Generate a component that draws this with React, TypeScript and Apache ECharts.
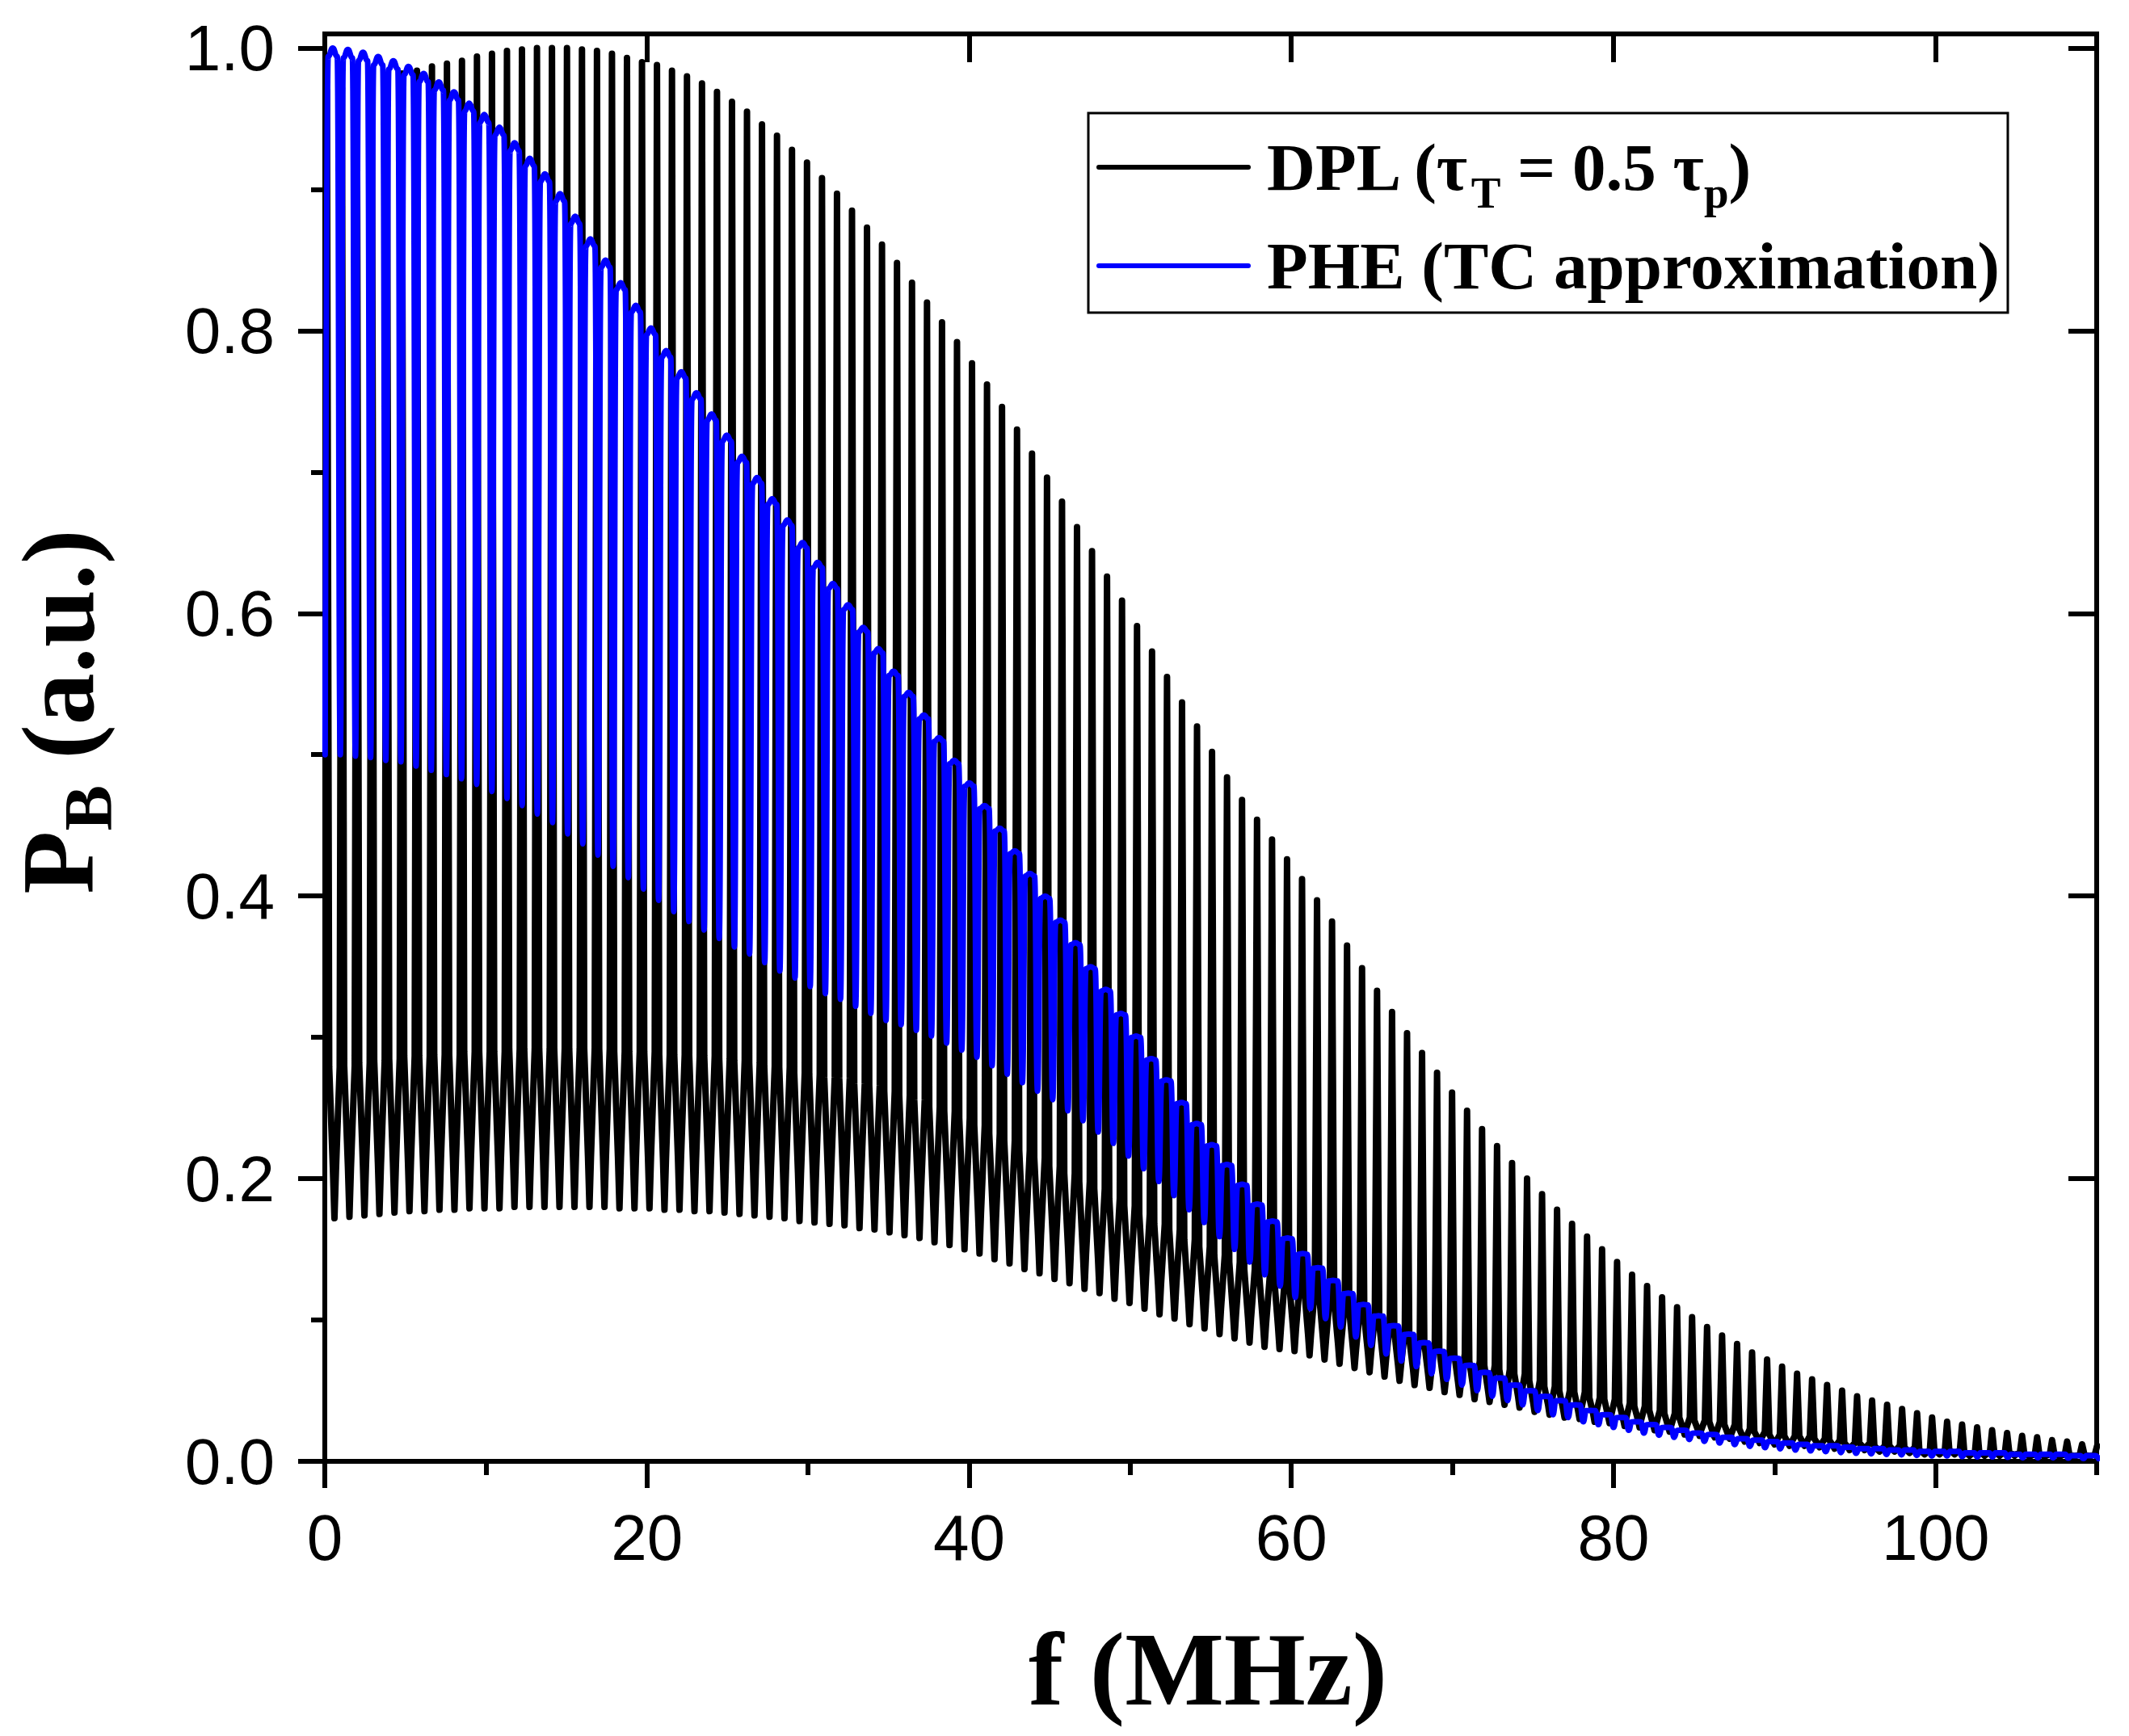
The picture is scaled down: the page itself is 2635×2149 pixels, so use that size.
import React, { useEffect, useRef } from "react";
import * as echarts from "echarts";

// ---- axis ticks ----
const X_MAJOR = [0, 20, 40, 60, 80, 100];
const X_MINOR = [10, 30, 50, 70, 90, 110];
const Y_MAJOR = [0, 0.2, 0.4, 0.6, 0.8, 1.0];
const Y_MINOR = [0.1, 0.3, 0.5, 0.7, 0.9];
const X_MIN = 0;
const X_MAX = 110;
const Y_MIN = 0;
const Y_MAX = 1.01;

// ---- oscillation positions (MHz) ----
// PHE peaks at BLUE_F0 + k*BLUE_PERIOD, troughs half a period earlier
const BLUE_F0 = 0.49;
const BLUE_PERIOD = 0.941;
// DPL spikes at BLACK_F0 + j*BLACK_PERIOD, dips half a period later
const BLACK_F0 = 0.133;
const BLACK_PERIOD = 0.9313;
// rounding of the PHE crests (fraction of the local swing)
const ARC_SAG = 0.012;

// PHE (TC approximation): peak value of each oscillation (k = 0..116)
const BLUE_PEAK = [
  1.0, 0.999, 0.997, 0.994, 0.991, 0.987, 0.982, 0.976, 0.969, 0.961,
  0.953, 0.944, 0.933, 0.922, 0.911, 0.897, 0.881, 0.865, 0.85, 0.834,
  0.818, 0.802, 0.786, 0.771, 0.756, 0.741, 0.726, 0.711, 0.696, 0.681,
  0.666, 0.65, 0.636, 0.621, 0.606, 0.59, 0.575, 0.559, 0.544, 0.528,
  0.512, 0.496, 0.48, 0.464, 0.448, 0.432, 0.416, 0.4, 0.383, 0.367,
  0.35, 0.334, 0.317, 0.301, 0.285, 0.27, 0.254, 0.239, 0.224, 0.21,
  0.196, 0.182, 0.17, 0.158, 0.147, 0.137, 0.128, 0.119, 0.111, 0.103,
  0.096, 0.09, 0.084, 0.078, 0.073, 0.068, 0.063, 0.059, 0.054, 0.05,
  0.046, 0.043, 0.04, 0.036, 0.033, 0.031, 0.028, 0.026, 0.024, 0.022,
  0.02, 0.019, 0.017, 0.016, 0.015, 0.014, 0.013, 0.012, 0.011, 0.011,
  0.01, 0.009, 0.009, 0.008, 0.008, 0.007, 0.007, 0.007, 0.006, 0.006,
  0.006, 0.005, 0.005, 0.005, 0.005, 0.004, 0.004,
];
// PHE: trough value half a period before each peak (k = 0..117)
const BLUE_TROUGH = [
  0.5, 0.5, 0.499, 0.498, 0.496, 0.495, 0.492, 0.489, 0.486, 0.483,
  0.479, 0.474, 0.469, 0.464, 0.458, 0.452, 0.444, 0.437, 0.429, 0.421,
  0.413, 0.405, 0.397, 0.389, 0.382, 0.376, 0.37, 0.364, 0.359, 0.353,
  0.347, 0.342, 0.336, 0.331, 0.327, 0.322, 0.317, 0.312, 0.309, 0.305,
  0.301, 0.296, 0.291, 0.286, 0.28, 0.274, 0.268, 0.262, 0.256, 0.248,
  0.241, 0.233, 0.225, 0.216, 0.207, 0.198, 0.188, 0.178, 0.169, 0.159,
  0.15, 0.141, 0.132, 0.124, 0.116, 0.108, 0.101, 0.095, 0.088, 0.082,
  0.076, 0.071, 0.067, 0.062, 0.058, 0.054, 0.05, 0.046, 0.043, 0.04,
  0.036, 0.033, 0.031, 0.028, 0.026, 0.024, 0.022, 0.02, 0.0185, 0.017,
  0.0155, 0.0142, 0.013, 0.0118, 0.0106, 0.0097, 0.0089, 0.008, 0.0074, 0.0068,
  0.0062, 0.0057, 0.0053, 0.0049, 0.0046, 0.0042, 0.0039, 0.0038, 0.0034, 0.0031,
  0.0031, 0.0028, 0.0025, 0.0025, 0.0025, 0.0023, 0.002, 0.002,
];
// DPL (tau_T = 0.5 tau_p): spike tops (j = 0..118)
const BLACK_SPIKE = [
  0.97, 0.972, 0.975, 0.977, 0.979, 0.982, 0.984, 0.987, 0.989, 0.991,
  0.994, 0.996, 0.998, 0.999, 1.0, 1.0, 1.0, 0.999, 0.998, 0.996,
  0.993, 0.99, 0.988, 0.984, 0.98, 0.975, 0.969, 0.962, 0.955, 0.946,
  0.938, 0.928, 0.919, 0.908, 0.897, 0.885, 0.873, 0.861, 0.848, 0.834,
  0.82, 0.806, 0.792, 0.777, 0.762, 0.746, 0.73, 0.713, 0.696, 0.679,
  0.661, 0.644, 0.626, 0.609, 0.591, 0.573, 0.555, 0.537, 0.52, 0.502,
  0.484, 0.468, 0.454, 0.44, 0.426, 0.412, 0.397, 0.382, 0.365, 0.349,
  0.333, 0.318, 0.303, 0.289, 0.275, 0.261, 0.248, 0.235, 0.223, 0.211,
  0.2, 0.189, 0.178, 0.168, 0.159, 0.15, 0.141, 0.132, 0.124, 0.116,
  0.109, 0.102, 0.095, 0.089, 0.083, 0.077, 0.072, 0.067, 0.062, 0.058,
  0.054, 0.05, 0.046, 0.043, 0.04, 0.037, 0.034, 0.031, 0.028, 0.026,
  0.024, 0.022, 0.02, 0.018, 0.017, 0.015, 0.014, 0.012, 0.011,
];
// DPL: dip bottoms, half a period after each spike (j = 0..117)
const BLACK_DIP = [
  0.172, 0.173, 0.174, 0.175, 0.176, 0.177, 0.177, 0.178, 0.178, 0.179,
  0.179, 0.179, 0.18, 0.18, 0.18, 0.18, 0.18, 0.18, 0.18, 0.179,
  0.179, 0.179, 0.178, 0.178, 0.177, 0.177, 0.176, 0.175, 0.174, 0.173,
  0.172, 0.17, 0.169, 0.168, 0.167, 0.165, 0.164, 0.162, 0.16, 0.158,
  0.155, 0.153, 0.15, 0.147, 0.143, 0.14, 0.136, 0.133, 0.129, 0.126,
  0.122, 0.119, 0.115, 0.112, 0.108, 0.104, 0.101, 0.097, 0.094, 0.09,
  0.087, 0.084, 0.081, 0.0795, 0.078, 0.075, 0.072, 0.069, 0.066, 0.063,
  0.06, 0.057, 0.054, 0.052, 0.049, 0.047, 0.044, 0.042, 0.04, 0.038,
  0.035, 0.033, 0.031, 0.03, 0.028, 0.027, 0.025, 0.024, 0.022, 0.021,
  0.019, 0.018, 0.017, 0.016, 0.014, 0.013, 0.012, 0.011, 0.011, 0.01,
  0.009, 0.008, 0.008, 0.007, 0.007, 0.006, 0.005, 0.005, 0.005, 0.004,
  0.004, 0.004, 0.004, 0.003, 0.003, 0.003, 0.003, 0.003,
];
// DPL: shoulder level next to each dip (j = 0..117)
const BLACK_SHOULDER_LO = [
  0.206, 0.208, 0.209, 0.21, 0.211, 0.212, 0.212, 0.214, 0.214, 0.215,
  0.215, 0.215, 0.216, 0.216, 0.216, 0.216, 0.216, 0.216, 0.216, 0.215,
  0.215, 0.215, 0.214, 0.214, 0.212, 0.212, 0.211, 0.21, 0.209, 0.208,
  0.206, 0.204, 0.203, 0.202, 0.2, 0.198, 0.197, 0.194, 0.192, 0.19,
  0.186, 0.184, 0.18, 0.176, 0.172, 0.168, 0.163, 0.16, 0.155, 0.151,
  0.146, 0.143, 0.138, 0.134, 0.13, 0.125, 0.121, 0.116, 0.113, 0.108,
  0.104, 0.101, 0.097, 0.095, 0.094, 0.09, 0.086, 0.083, 0.079, 0.076,
  0.072, 0.068, 0.065, 0.062, 0.059, 0.056, 0.053, 0.05, 0.048, 0.046,
  0.042, 0.04, 0.037, 0.036, 0.034, 0.032, 0.03, 0.029, 0.026, 0.025,
  0.023, 0.022, 0.02, 0.019, 0.017, 0.016, 0.014, 0.013, 0.013, 0.012,
  0.011, 0.01, 0.01, 0.008, 0.008, 0.007, 0.006, 0.006, 0.006, 0.005,
  0.005, 0.005, 0.005, 0.004, 0.004, 0.004, 0.004, 0.004,
];
// DPL: shoulder level at the foot of each spike (j = 0..117)
const BLACK_SHOULDER_HI = [
  0.279, 0.28, 0.282, 0.284, 0.285, 0.287, 0.287, 0.288, 0.288, 0.29,
  0.29, 0.29, 0.292, 0.292, 0.292, 0.292, 0.292, 0.292, 0.292, 0.29,
  0.29, 0.29, 0.288, 0.288, 0.287, 0.287, 0.285, 0.284, 0.282, 0.28,
  0.279, 0.275, 0.274, 0.272, 0.271, 0.267, 0.266, 0.262, 0.259, 0.256,
  0.251, 0.248, 0.243, 0.238, 0.232, 0.227, 0.22, 0.215, 0.209, 0.204,
  0.198, 0.193, 0.186, 0.181, 0.175, 0.168, 0.164, 0.157, 0.152, 0.146,
  0.141, 0.136, 0.131, 0.129, 0.126, 0.122, 0.117, 0.112, 0.107, 0.102,
  0.097, 0.092, 0.087, 0.084, 0.079, 0.076, 0.071, 0.068, 0.065, 0.062,
  0.057, 0.053, 0.05, 0.049, 0.045, 0.044, 0.041, 0.039, 0.036, 0.034,
  0.031, 0.029, 0.028, 0.026, 0.023, 0.021, 0.019, 0.018, 0.018, 0.016,
  0.015, 0.013, 0.013, 0.011, 0.011, 0.01, 0.008, 0.008, 0.008, 0.006,
  0.006, 0.006, 0.006, 0.005, 0.005, 0.005, 0.005, 0.005,
];

const SERIES_NAMES = ["DPL", "PHE"];

function buildBlue(): number[][] {
  const P = BLUE_PERIOD;
  const pts: number[][] = [];
  for (let k = 0; k < BLUE_PEAK.length; k++) {
    const fc = BLUE_F0 + k * P;
    const up = BLUE_PEAK[k];
    const sag = ARC_SAG * (up - Math.min(BLUE_TROUGH[k], BLUE_TROUGH[k + 1]));
    pts.push([fc - 0.5 * P, BLUE_TROUGH[k]]);
    pts.push([fc - 0.3 * P, up - sag]);
    pts.push([fc, up]);
    pts.push([fc + 0.3 * P, up - sag]);
  }
  const last = BLUE_PEAK.length;
  pts.push([BLUE_F0 + last * P - 0.5 * P, BLUE_TROUGH[last]]);
  return pts;
}

function buildBlack(): number[][] {
  const P = BLACK_PERIOD;
  const pts: number[][] = [];
  for (let j = 0; j < BLACK_DIP.length; j++) {
    const fs = BLACK_F0 + j * P;
    pts.push([fs, BLACK_SPIKE[j]]);
    pts.push([fs + 0.15 * P, BLACK_SHOULDER_HI[j]]);
    pts.push([fs + 0.4 * P, BLACK_SHOULDER_LO[j]]);
    pts.push([fs + 0.5 * P, BLACK_DIP[j]]);
    pts.push([fs + 0.6 * P, BLACK_SHOULDER_LO[j]]);
    pts.push([fs + 0.85 * P, BLACK_SHOULDER_HI[j]]);
  }
  const last = BLACK_DIP.length;
  pts.push([BLACK_F0 + last * P, BLACK_SPIKE[last]]);
  return pts;
}

const LABEL_FONT = "'Liberation Sans', Arial, sans-serif";
const SERIF = "'Liberation Serif', 'Times New Roman', serif";

export default function App() {
  const ref = useRef<HTMLDivElement>(null);

  useEffect(() => {
    if (!ref.current) return;
    const chart = echarts.init(ref.current, undefined, { renderer: "svg" });

    const lineW = 6;
    const xBase = {
      type: "value",
      min: X_MIN,
      max: X_MAX,
      splitLine: { show: false },
      minorTick: { show: false },
    };
    const yBase = {
      type: "value",
      min: Y_MIN,
      max: Y_MAX,
      splitLine: { show: false },
      minorTick: { show: false },
    };
    const tickStyle = { color: "#000", width: lineW };
    const axisLineStyle = { show: true, onZero: false, lineStyle: { color: "#000", width: lineW, cap: "square" } };

    const option: any = {
      animation: false,
      backgroundColor: "#ffffff",
      grid: {
        left: 402,
        top: 42,
        right: 40,
        bottom: 340,
        containLabel: false,
        outerBoundsMode: "none",
      },
      xAxis: [
        {
          ...xBase,
          position: "bottom",
          axisLine: axisLineStyle,
          axisTick: { show: true, inside: false, length: 33, customValues: X_MAJOR, lineStyle: tickStyle },
          axisLabel: {
            show: true,
            customValues: X_MAJOR,
            margin: 54,
            fontSize: 80,
            fontFamily: LABEL_FONT,
            color: "#000",
            formatter: (v: number) => String(Math.round(v)),
          },
        },
        {
          ...xBase,
          position: "bottom",
          axisLine: { show: false },
          axisTick: { show: true, inside: false, length: 17, customValues: X_MINOR, lineStyle: tickStyle },
          axisLabel: { show: false },
        },
        {
          ...xBase,
          position: "top",
          axisLine: axisLineStyle,
          axisTick: { show: true, inside: true, length: 35, customValues: X_MAJOR, lineStyle: tickStyle },
          axisLabel: { show: false },
        },
        {
          ...xBase,
          position: "top",
          axisLine: { show: false },
          axisTick: { show: true, inside: true, length: 17, customValues: X_MINOR, lineStyle: tickStyle },
          axisLabel: { show: false },
        },
      ],
      yAxis: [
        {
          ...yBase,
          position: "left",
          axisLine: axisLineStyle,
          axisTick: { show: true, inside: false, length: 33, customValues: Y_MAJOR, lineStyle: tickStyle },
          axisLabel: {
            show: true,
            customValues: Y_MAJOR,
            margin: 62,
            fontSize: 80,
            fontFamily: LABEL_FONT,
            color: "#000",
            formatter: (v: number) => v.toFixed(1),
          },
        },
        {
          ...yBase,
          position: "left",
          axisLine: { show: false },
          axisTick: { show: true, inside: false, length: 17, customValues: Y_MINOR, lineStyle: tickStyle },
          axisLabel: { show: false },
        },
        {
          ...yBase,
          position: "right",
          axisLine: axisLineStyle,
          axisTick: { show: true, inside: true, length: 35, customValues: Y_MAJOR, lineStyle: tickStyle },
          axisLabel: { show: false },
        },
        {
          ...yBase,
          position: "right",
          axisLine: { show: false },
          axisTick: { show: true, inside: true, length: 17, customValues: Y_MINOR, lineStyle: tickStyle },
          axisLabel: { show: false },
        },
      ],
      series: [
        {
          name: SERIES_NAMES[0],
          type: "line",
          xAxisIndex: 0,
          yAxisIndex: 0,
          data: buildBlack(),
          showSymbol: false,
          symbol: "none",
          smooth: false,
          clip: true,
          lineStyle: { color: "#000000", width: 8, join: "round", cap: "round" },
          z: 2,
        },
        {
          name: SERIES_NAMES[1],
          type: "line",
          xAxisIndex: 0,
          yAxisIndex: 0,
          data: buildBlue(),
          showSymbol: false,
          symbol: "none",
          smooth: 0.5,
          smoothMonotone: "x",
          clip: true,
          lineStyle: { color: "#0000ff", width: 7, join: "round", cap: "round" },
          z: 3,
        },
      ],
      graphic: [
        // legend box
        {
          type: "rect",
          z: 100,
          shape: { x: 1347, y: 140, width: 1138, height: 247 },
          style: { fill: "#ffffff", stroke: "#000000", lineWidth: 3 },
        },
        {
          type: "line",
          z: 101,
          shape: { x1: 1360, y1: 207, x2: 1545, y2: 207 },
          style: { stroke: "#000000", lineWidth: 6, lineCap: "round" },
        },
        {
          type: "line",
          z: 101,
          shape: { x1: 1360, y1: 329, x2: 1545, y2: 329 },
          style: { stroke: "#0000ff", lineWidth: 6, lineCap: "round" },
        },
        {
          type: "text",
          z: 101,
          x: 1568,
          y: 207,
          style: {
            text: "{m|DPL (τ}{s|T}{m| = 0.5 τ}{s|p}{m|)}",
            align: "left",
            verticalAlign: "middle",
            rich: {
              m: { fontFamily: SERIF, fontWeight: "bold", fontSize: 83, lineHeight: 100, fill: "#000" },
              s: { fontFamily: SERIF, fontWeight: "bold", fontSize: 55, lineHeight: 55, padding: [63, 0, 0, 0], fill: "#000" },
            },
          },
        },
        {
          type: "text",
          z: 101,
          x: 1568,
          y: 329,
          style: {
            text: "PHE (TC approximation)",
            align: "left",
            verticalAlign: "middle",
            fontFamily: SERIF,
            fontWeight: "bold",
            fontSize: 83,
            fill: "#000",
          },
        },
        // axis titles
        {
          type: "text",
          z: 101,
          x: 1495,
          y: 2066,
          style: {
            text: "f (MHz)",
            align: "center",
            verticalAlign: "middle",
            fontFamily: SERIF,
            fontWeight: "bold",
            fontSize: 130,
            fill: "#000",
          },
        },
        {
          type: "text",
          z: 101,
          x: 72,
          y: 881,
          rotation: Math.PI / 2,
          style: {
            text: "{m|P}{s|B}{m| (a.u.)}",
            align: "center",
            verticalAlign: "middle",
            rich: {
              m: { fontFamily: SERIF, fontWeight: "bold", fontSize: 128, lineHeight: 120, fill: "#000" },
              s: { fontFamily: SERIF, fontWeight: "bold", fontSize: 85, lineHeight: 50, padding: [74, 0, 0, 0], fill: "#000" },
            },
          },
        },
      ],
    };

    chart.setOption(option);
    return () => {
      chart.dispose();
    };
  }, []);

  return (
    <div
      ref={ref}
      style={{
        position: "fixed",
        left: 0,
        top: 0,
        width: "2635px",
        height: "2149px",
        background: "#ffffff",
      }}
    />
  );
}
